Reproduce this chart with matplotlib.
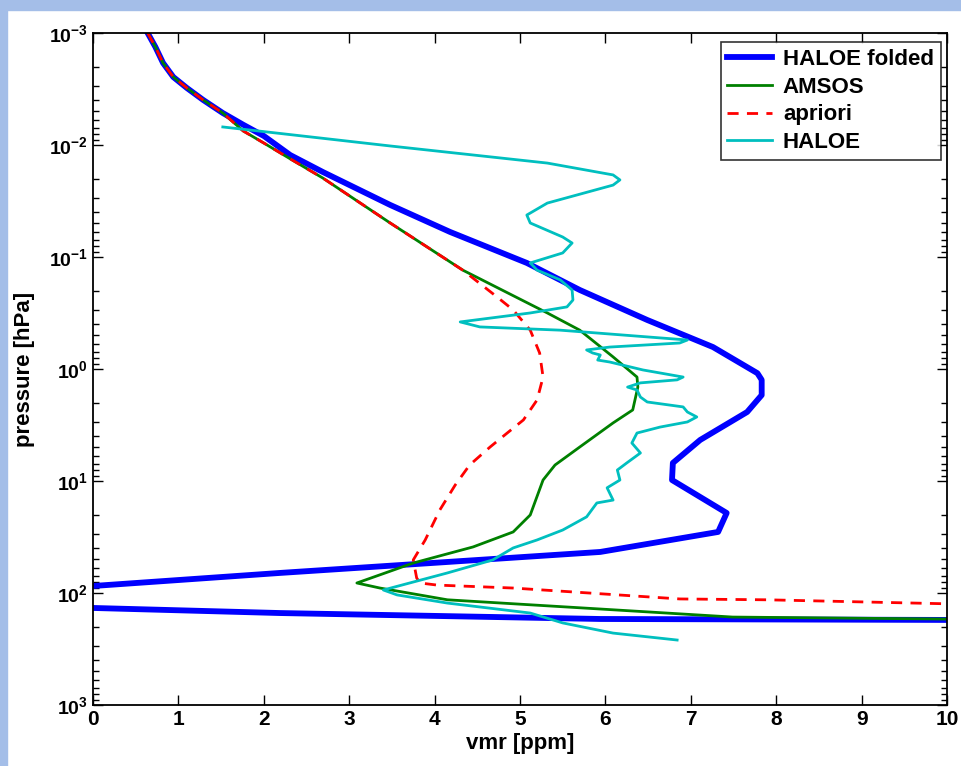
import numpy as np
import matplotlib.pyplot as plt
from matplotlib.patches import Rectangle
from matplotlib.ticker import LogLocator, NullFormatter

plt.rcParams['font.family'] = ['Liberation Sans', 'DejaVu Sans']
plt.rcParams['font.weight'] = 'bold'
plt.rcParams['mathtext.fontset'] = 'custom'
plt.rcParams['mathtext.bf'] = 'Liberation Sans:bold'
plt.rcParams['mathtext.rm'] = 'Liberation Sans:bold'

# HALOE folded (vmr [ppm], pressure [hPa])
folded_vmr = [0.64, 0.73, 0.82, 0.94, 1.10, 1.29, 1.52, 1.76, 2.00, 2.31, 2.69, 3.48,
              4.18, 5.08, 5.70, 6.49, 7.26, 7.78, 7.83, 7.83, 7.66, 7.11, 6.79, 6.78,
              7.42, 7.32, 5.94, 2.19, 0.0, -0.5, 0.0, 2.19, 5.94, 10.0, 12.0]
folded_p = [1e-3, 1.33e-3, 1.85e-3, 2.47e-3, 3.10e-3, 3.96e-3, 5.18e-3, 6.6e-3, 8.3e-3,
            0.0123, 0.0174, 0.0343, 0.0597, 0.113, 0.197, 0.365, 0.637, 1.09, 1.25, 1.71,
            2.42, 4.30, 6.90, 9.8, 19.3, 28.5, 43.0, 66.2, 86.6, 110.0, 136.0, 151.0,
            170.6, 174.0, 175.0]

# AMSOS retrieval
amsos_vmr = [0.64, 0.73, 0.82, 0.94, 1.10, 1.29, 1.52, 1.76, 2.00, 2.31, 2.69, 3.48,
             4.33, 5.32, 5.70, 6.09, 6.37, 6.38, 6.32, 6.09, 5.70, 5.41, 5.27, 5.12,
             4.92, 4.45, 3.75, 3.09, 3.36, 4.15, 5.94, 7.49, 10.03, 12.0]
amsos_p = [1e-3, 1.33e-3, 1.85e-3, 2.47e-3, 3.10e-3, 3.96e-3, 5.18e-3, 7.5e-3, 9.6e-3,
           0.0133, 0.0197, 0.0497, 0.131, 0.316, 0.45, 0.78, 1.18, 1.45, 2.32, 3.03,
           4.97, 7.2, 9.8, 20.1, 28.5, 38.8, 54.0, 81.4, 90.3, 115.0, 139.0, 164.0,
           171.0, 172.0]

# a priori profile
apriori_vmr = [0.64, 0.73, 0.82, 0.94, 1.10, 1.29, 1.52, 1.76, 2.00, 2.31, 2.69, 3.48,
               4.33, 4.73, 4.92, 5.12, 5.23, 5.27, 5.20, 5.04, 4.85, 4.65, 4.41, 4.24,
               4.06, 3.89, 3.75, 3.79, 3.83, 4.03, 4.92, 6.87, 7.89, 10.03, 12.0]
apriori_p = [1e-3, 1.33e-3, 1.85e-3, 2.47e-3, 3.10e-3, 3.96e-3, 5.18e-3, 7.5e-3, 9.6e-3,
             0.0133, 0.0197, 0.0497, 0.131, 0.227, 0.297, 0.45, 0.72, 1.18, 1.89, 2.85,
             3.73, 4.97, 7.2, 10.9, 18.2, 33.6, 50.7, 73.4, 81.4, 85.0, 90.3, 113.0,
             115.0, 125.0, 127.0]

# HALOE measurement
haloe_vmr = [1.52, 3.48, 5.32, 6.09, 6.17, 6.09, 5.32, 5.08, 5.12, 5.50, 5.61, 5.50,
             5.12, 5.20, 5.47, 5.61, 5.62, 5.55, 5.12, 4.30, 4.53, 5.47, 6.96, 6.87,
             6.05, 5.78, 5.85, 5.94, 5.91, 6.05, 6.44, 6.91, 6.84, 6.41, 6.26, 6.37,
             6.41, 6.49, 6.91, 6.96, 7.07, 6.96, 6.64, 6.37, 6.31, 6.41, 6.25, 6.14,
             6.17, 6.02, 6.09, 5.90, 5.78, 5.50, 5.20, 4.92, 4.68, 4.15, 3.40, 3.56,
             4.15, 5.12, 5.50, 6.09, 6.84]
haloe_p = [6.9e-3, 0.0102, 0.0145, 0.0185, 0.0205, 0.0228, 0.033, 0.0422, 0.0497, 0.0663,
           0.075, 0.092, 0.113, 0.131, 0.160, 0.197, 0.242, 0.279, 0.316, 0.380, 0.421,
           0.45, 0.551, 0.586, 0.637, 0.676, 0.719, 0.750, 0.832, 0.866, 1.02, 1.18,
           1.25, 1.33, 1.45, 1.54, 1.78, 1.97, 2.18, 2.42, 2.68, 2.97, 3.30, 3.73, 4.58,
           5.62, 6.90, 7.98, 9.80, 11.5, 14.8, 15.7, 20.9, 27.4, 33.6, 39.6, 50.7, 66.2,
           94.0, 104.0, 123.0, 151.0, 185.0, 228.0, 263.0]

fig = plt.figure(figsize=(9.61, 7.66), dpi=100)
fig.patches.append(Rectangle((0, 1 - 10 / 766), 1, 10 / 766, transform=fig.transFigure,
                             color='#a4bee8', zorder=0))
fig.patches.append(Rectangle((0, 0), 7 / 961, 1, transform=fig.transFigure,
                             color='#a4bee8', zorder=0))

ax = fig.add_axes([93 / 961, 61 / 766, 854 / 961, 672 / 766])
ax.plot(folded_vmr, folded_p, color='#0000ff', lw=4.2, label='HALOE folded')
ax.plot(amsos_vmr, amsos_p, color='#008000', lw=2, label='AMSOS')
ax.plot(apriori_vmr, apriori_p, color='#ff0000', lw=2, ls=(0, (4, 3)), label='apriori')
ax.plot(haloe_vmr, haloe_p, color='#00bfbf', lw=2, label='HALOE')

ax.set_yscale('log')
ax.set_xlim(0, 10)
ax.set_ylim(1e3, 1e-3)
ax.set_xticks(range(11))
ax.set_yticks([1e-3, 1e-2, 1e-1, 1e0, 1e1, 1e2, 1e3])
ax.set_yticklabels([r'$\mathbf{10^{%d}}$' % e for e in range(-3, 4)])
ax.yaxis.set_minor_locator(LogLocator(base=10, subs=np.arange(2, 10), numticks=20))
ax.yaxis.set_minor_formatter(NullFormatter())
ax.tick_params(which='both', direction='in', top=True, right=True, labelsize=14)
ax.tick_params(axis='x', labelsize=15)
ax.tick_params(which='major', length=7, width=1)
ax.tick_params(which='minor', length=4, width=1)
for s in ax.spines.values():
    s.set_linewidth(1.3)

ax.set_xlabel('vmr [ppm]', fontsize=16, fontweight='bold', labelpad=3)
ax.set_ylabel('pressure [hPa]', fontsize=16, fontweight='bold', labelpad=10)

leg = ax.legend(loc='upper right', fontsize=16, frameon=True, fancybox=False,
                edgecolor='black', bbox_to_anchor=(0.9925, 0.986), borderaxespad=0,
                handlelength=2.0, handletextpad=0.5, labelspacing=0.3, borderpad=0.3)
leg.get_frame().set_linewidth(1.2)

fig.savefig('out.png', dpi=100)
